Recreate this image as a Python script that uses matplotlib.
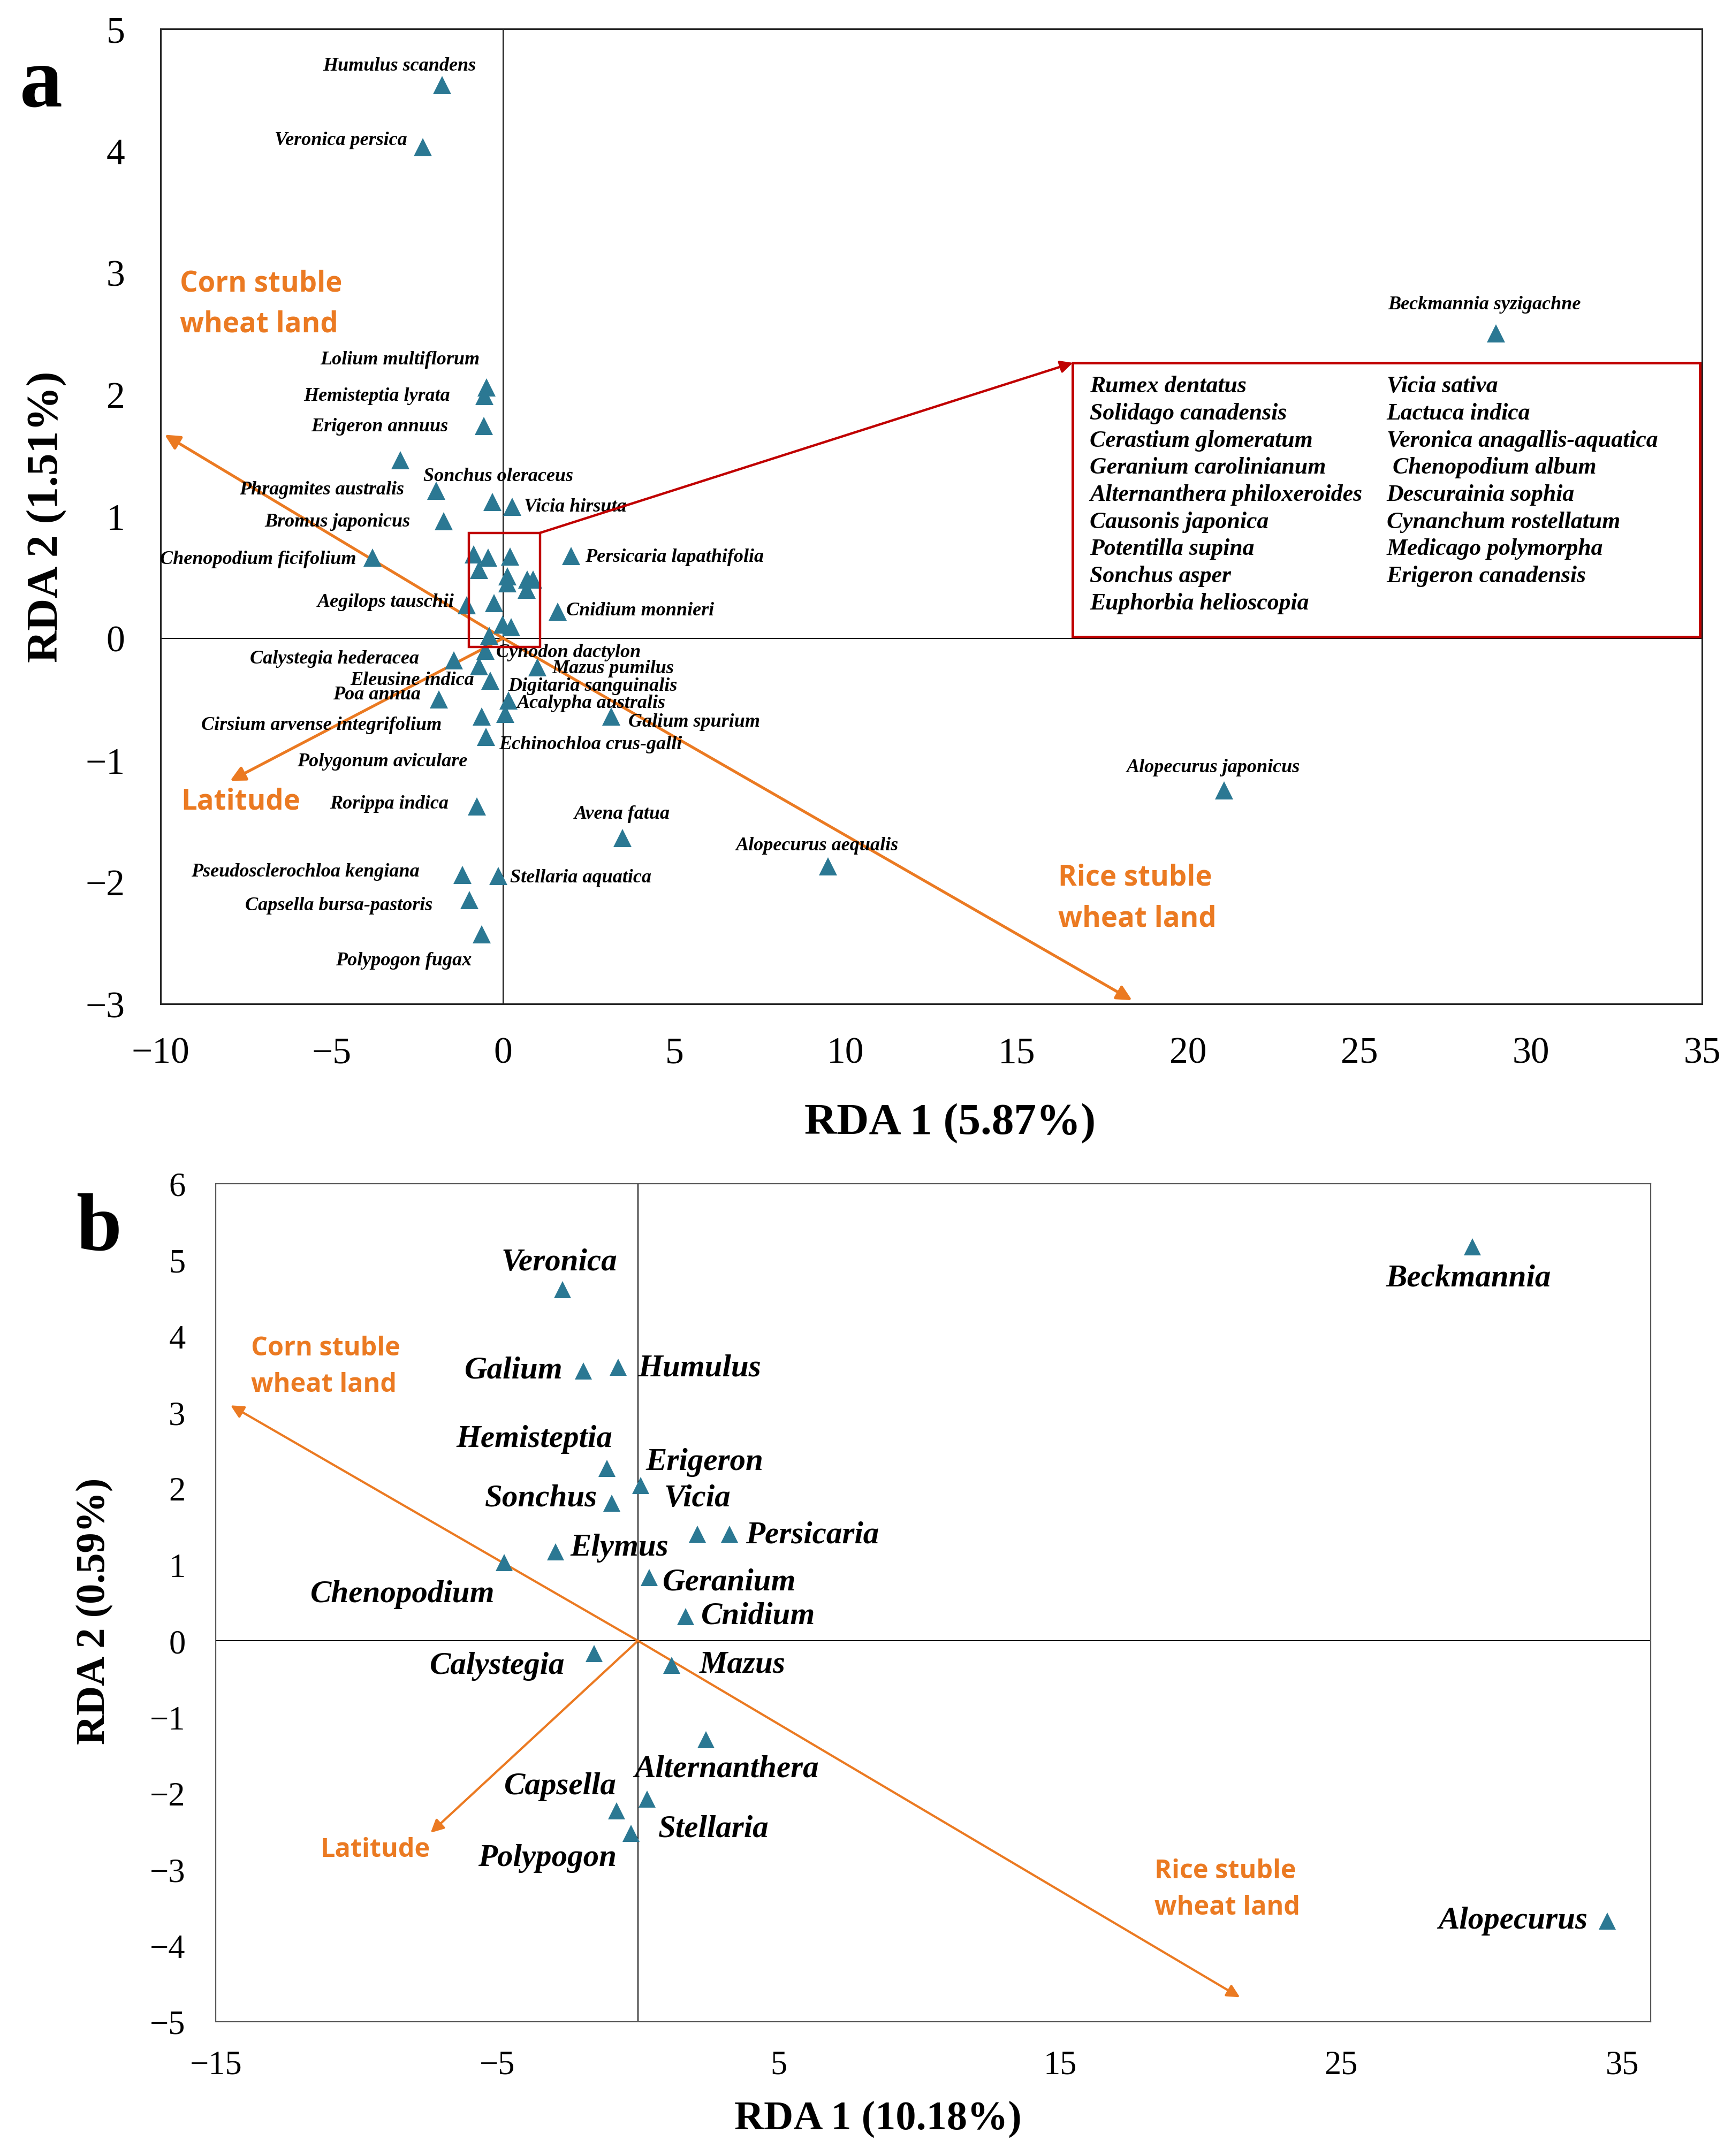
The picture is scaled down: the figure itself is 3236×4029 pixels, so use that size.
import matplotlib
matplotlib.use("Agg")  # headless
import matplotlib.pyplot as plt
from matplotlib.patches import Rectangle

# ---------------- data: panel a ----------------
A_X = [-1.78, -2.35, -0.49, -0.54, -0.57, -3.00, -1.95, -0.32, 0.26, -1.73,
       -3.82, -0.86, -0.44, 0.20, -0.70, 0.125, 0.12, 0.70, 0.875, 0.68,
       -0.26, -0.02, 0.24, -0.40, -1.07, 1.99, 1.59, -0.52, -1.43, 1.00,
       -0.71, -0.38, -1.87, 0.16, 0.06, -0.62, 3.15, -0.50, -0.77, 3.48,
       -1.19, -0.14, -0.98, -0.62, 9.48, 21.05, 28.98]
A_Y = [4.54, 4.03, 2.06, 1.99, 1.74, 1.46, 1.21, 1.12, 1.08, 0.96,
       0.66, 0.69, 0.66, 0.67, 0.56, 0.51, 0.45, 0.48, 0.48, 0.40,
       0.29, 0.115, 0.09, 0.02, 0.27, 0.675, 0.22, -0.10, -0.18, -0.24,
       -0.23, -0.35, -0.50, -0.51, -0.62, -0.64, -0.64, -0.81, -1.38, -1.64,
       -1.94, -1.95, -2.15, -2.43, -1.87, -1.25, 2.50]

A_LABELS = ["Humulus scandens", "Veronica persica", "Lolium multiflorum",
            "Hemisteptia lyrata", "Erigeron annuus", "Sonchus oleraceus",
            "Phragmites australis", "Vicia hirsuta", "Bromus japonicus",
            "Chenopodium ficifolium", "Aegilops tauschii", "Persicaria lapathifolia",
            "Cnidium monnieri", "Cynodon dactylon", "Calystegia hederacea",
            "Mazus pumilus", "Eleusine indica", "Digitaria sanguinalis", "Poa annua",
            "Acalypha australis", "Galium spurium", "Cirsium arvense integrifolium",
            "Echinochloa crus-galli", "Polygonum aviculare", "Rorippa indica",
            "Avena fatua", "Alopecurus aequalis", "Pseudosclerochloa kengiana",
            "Stellaria aquatica", "Capsella bursa-pastoris", "Polypogon fugax",
            "Alopecurus japonicus", "Beckmannia syzigachne"]
A_LAB_X = [-3.02, -4.74, -3.01, -3.68, -3.61, -0.14, -5.30, 2.11, -4.84,
           -7.16, -3.43, 5.00, 4.00, 1.91, -4.92, 3.21, -2.66, 2.61, -3.68,
           2.58, 5.58, -5.30, 2.55, -3.53, -3.33, 3.48, 9.17, -5.78, 2.27,
           -4.80, -2.91, 20.73, 28.65]
A_LAB_Y = [4.70, 4.09, 2.29, 1.99, 1.74, 1.33, 1.22, 1.08, 0.96,
           0.65, 0.30, 0.67, 0.23, -0.115, -0.165, -0.245, -0.34, -0.39, -0.46,
           -0.53, -0.685, -0.71, -0.87, -1.01, -1.355, -1.44, -1.70, -1.915, -1.96,
           -2.19, -2.64, -1.057, 2.74]

# species hidden in the small red box near the origin
BOX_LEFT = ["Rumex dentatus", "Solidago canadensis", "Cerastium glomeratum",
            "Geranium carolinianum", "Alternanthera philoxeroides",
            "Causonis japonica", "Potentilla supina", "Sonchus asper",
            "Euphorbia helioscopia"]
BOX_RIGHT = ["Vicia sativa", "Lactuca indica", "Veronica anagallis-aquatica",
             " Chenopodium album", "Descurainia sophia", "Cynanchum rostellatum",
             "Medicago polymorpha", "Erigeron canadensis"]

# environmental vectors (arrow tips), panel a
A_ENV = ["Corn stuble\nwheat land", "Latitude", "Rice stuble\nwheat land"]
A_ENV_X = [-9.88, -7.97, 18.36]
A_ENV_Y = [1.67, -1.17, -2.97]

# ---------------- data: panel b ----------------
B_NAMES = ["Veronica", "Galium", "Humulus", "Hemisteptia", "Erigeron", "Sonchus",
           "Vicia", "Persicaria", "Elymus", "Chenopodium", "Geranium", "Cnidium",
           "Calystegia", "Mazus", "Alternanthera", "Stellaria", "Capsella",
           "Polypogon", "Beckmannia", "Alopecurus"]
B_X = [-2.68, -1.93, -0.71, -1.11, 0.10, -0.93, 2.11, 3.25, -2.93, -4.75,
       0.41, 1.69, -1.55, 1.20, 2.42, 0.33, -0.76, -0.25, 29.67, 34.45]
B_Y = [4.61, 3.54, 3.59, 2.26, 2.04, 1.81, 1.40, 1.40, 1.17, 1.03,
       0.83, 0.32, -0.17, -0.32, -1.30, -2.08, -2.23, -2.53, 5.17, -3.68]
B_LAB_X = [-2.80, -4.42, 2.20, -3.69, 2.36, -3.44, 2.11, 6.19, -0.66, -8.37,
           3.24, 4.27, -5.00, 3.72, 3.15, 2.69, -2.76, -3.22, 29.52, 31.10]
B_LAB_Y = [4.97, 3.55, 3.58, 2.65, 2.35, 1.87, 1.87, 1.39, 1.22, 0.615,
           0.77, 0.33, -0.33, -0.31, -1.68, -2.47, -1.91, -2.85, 4.76, -3.67]

B_ENV = ["Corn stuble\nwheat land", "Latitude", "Rice stuble\nwheat land"]
B_ENV_X = [-14.48, -7.37, 21.40]
B_ENV_Y = [3.09, -2.52, -4.68]

# ---------------- styles ----------------
W, H = 3237, 4030
MARKER = "#2B7893"
ORANGE = "#EB7A22"
RED = "#C00000"
SERIF = "Liberation Serif"
SANS = "Open Sans"


def px(x0, y0, x1, y1):
    # pixel box -> figure fraction [left, bottom, width, height]
    return [x0 / W, 1 - y1 / H, (x1 - x0) / W, (y1 - y0) / H]


def style_axes(ax, xlim, ylim, xticks, yticks, tick_size, xpad, ypad, spine_color, spine_lw):
    ax.set_xlim(*xlim)
    ax.set_ylim(*ylim)
    ax.set_xticks(xticks)
    ax.set_yticks(yticks)
    ax.tick_params(length=0, labelsize=tick_size)
    ax.tick_params(axis="x", pad=xpad)
    ax.tick_params(axis="y", pad=ypad)
    for lab in ax.get_xticklabels() + ax.get_yticklabels():
        lab.set_fontfamily(SERIF)
    for s in ax.spines.values():
        s.set_color(spine_color)
        s.set_linewidth(spine_lw)
    ax.axhline(0, color="black", lw=1.4, zorder=1)
    ax.axvline(0, color="black", lw=1.4, zorder=1)


def env_arrow(ax, x, y, lw, scale):
    ax.annotate("", xy=(x, y), xytext=(0, 0),
                arrowprops=dict(arrowstyle="-|>", color=ORANGE, lw=lw,
                                mutation_scale=scale, shrinkA=0, shrinkB=0),
                zorder=2)


fig = plt.figure(figsize=(W / 100, H / 100), dpi=100)

# ================= panel a =================
ax = fig.add_axes(px(300, 55, 3180, 1877))
style_axes(ax, (-10, 35), (-3, 5), range(-10, 36, 5), range(-3, 6),
           50, 44, 48, "#262626", 2.2)

ax.plot(A_X, A_Y, "^", color=MARKER, markersize=24, markeredgewidth=0, zorder=3)
for t, x, y in zip(A_LABELS, A_LAB_X, A_LAB_Y):
    ax.text(x, y, t, ha="center", va="center", fontsize=26, family=SERIF,
            style="italic", weight="bold", zorder=4)

for x, y in zip(A_ENV_X, A_ENV_Y):
    env_arrow(ax, x, y, 3.8, 42)
ax.text(-9.44, 2.745, A_ENV[0], ha="left", va="center", fontsize=38, color=ORANGE,
        family=SANS, weight="bold", linespacing=1.55)
ax.text(-7.66, -1.34, A_ENV[1], ha="center", va="center", fontsize=38, color=ORANGE,
        family=SANS, weight="bold")
ax.text(16.2, -2.13, A_ENV[2], ha="left", va="center", fontsize=38, color=ORANGE,
        family=SANS, weight="bold", linespacing=1.55)

# zoom box at the origin and the list box it points to
ax.add_patch(Rectangle((-1.0, -0.07), 2.08, 0.935, fill=False, ec=RED, lw=3.2, zorder=5))
ax.add_patch(Rectangle((16.63, 0.01), 18.31, 2.25, fill=False, ec=RED, lw=3.6, zorder=5))
ax.annotate("", xy=(16.63, 2.26), xytext=(1.08, 0.865),
            arrowprops=dict(arrowstyle="-|>", color=RED, lw=3.2, mutation_scale=34,
                            shrinkA=0, shrinkB=0), zorder=5)
for i, t in enumerate(BOX_LEFT):
    ax.text(17.13, 2.07 - 0.2225 * i, t, ha="left", va="center", fontsize=31.5,
            family=SERIF, style="italic", weight="bold")
for i, t in enumerate(BOX_RIGHT):
    ax.text(25.79, 2.07 - 0.2225 * i, t, ha="left", va="center", fontsize=31.5,
            family=SERIF, style="italic", weight="bold")

fig.text(1775 / W, 1 - 2100 / H, "RDA 1 (5.87%)", ha="center", va="center",
         fontsize=60, family=SERIF, weight="bold")
fig.text(88 / W, 1 - 966 / H, "RDA 2 (1.51%)", ha="center", va="center",
         rotation=90, fontsize=60, family=SERIF, weight="bold")
fig.text(77 / W, 1 - 199 / H, "a", ha="center", va="baseline",
         fontsize=115, family=SERIF, weight="bold")

# ================= panel b =================
bx = fig.add_axes(px(403.5, 2213, 3084, 3779))
style_axes(bx, (-15, 36), (-5, 6), range(-15, 36, 10), range(-5, 7),
           45, 38, 41, "#595959", 1.6)

bx.plot(B_X, B_Y, "^", color=MARKER, markersize=23, markeredgewidth=0, zorder=3)
for t, x, y in zip(B_NAMES, B_LAB_X, B_LAB_Y):
    bx.text(x, y, t, ha="center", va="center", fontsize=42.5, family=SERIF,
            style="italic", weight="bold", zorder=4)

for x, y in zip(B_ENV_X, B_ENV_Y):
    env_arrow(bx, x, y, 3.0, 36)
bx.text(-13.75, 3.60, B_ENV[0], ha="left", va="center", fontsize=35, color=ORANGE,
        family=SANS, weight="bold", linespacing=1.5)
bx.text(-9.33, -2.74, B_ENV[1], ha="center", va="center", fontsize=35, color=ORANGE,
        family=SANS, weight="bold")
bx.text(18.37, -3.26, B_ENV[2], ha="left", va="center", fontsize=35, color=ORANGE,
        family=SANS, weight="bold", linespacing=1.5)

fig.text(1640 / W, 1 - 3960 / H, "RDA 1 (10.18%)", ha="center", va="center",
         fontsize=55, family=SERIF, weight="bold")
fig.text(176 / W, 1 - 3011 / H, "RDA 2 (0.59%)", ha="center", va="center",
         rotation=90, fontsize=55, family=SERIF, weight="bold")
fig.text(185 / W, 1 - 2336 / H, "b", ha="center", va="baseline",
         fontsize=110, family=SERIF, weight="bold")

fig.savefig("out.png", dpi=100)
plt.close(fig)
